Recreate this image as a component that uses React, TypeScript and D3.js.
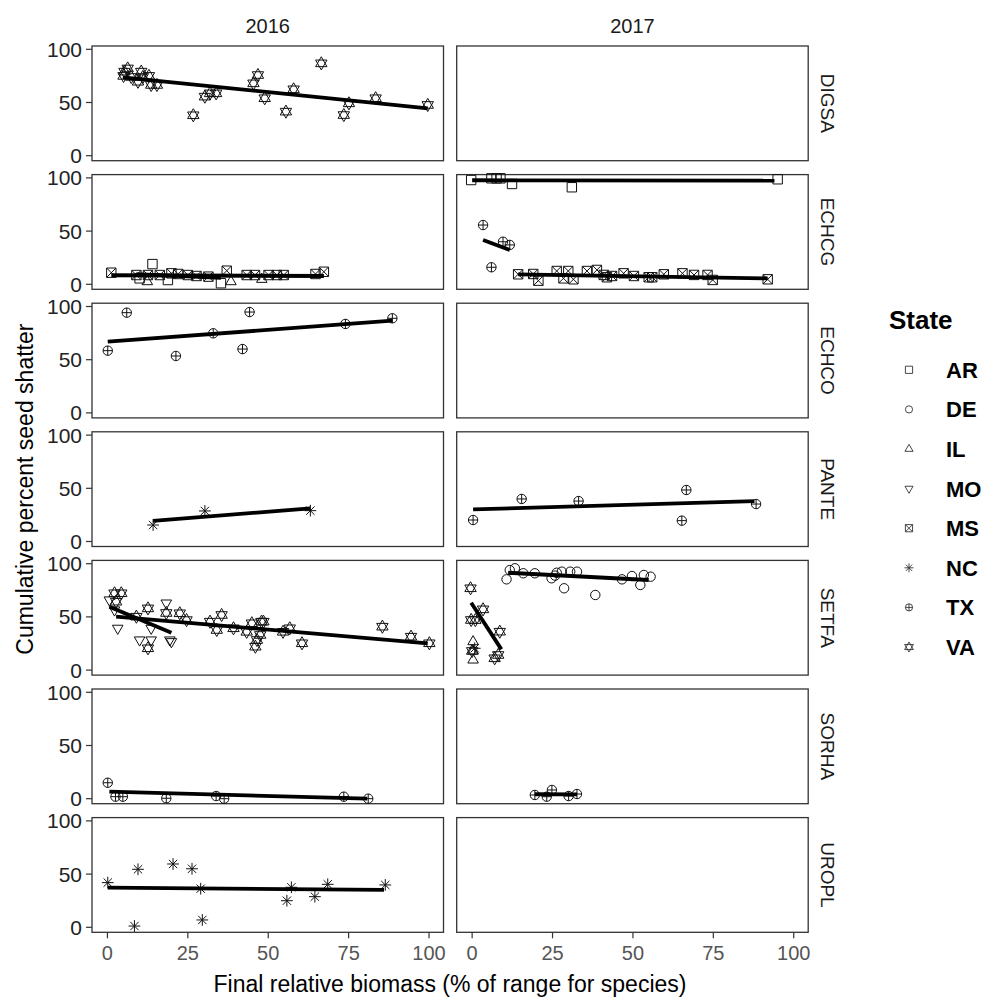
import React from 'react';
import * as d3 from 'd3';

// facet layout
const years = ['2016', '2017'];
const species = ['DIGSA', 'ECHCG', 'ECHCO', 'PANTE', 'SETFA', 'SORHA', 'UROPL'];
const states = ['AR', 'DE', 'IL', 'MO', 'MS', 'NC', 'TX', 'VA'];
const xTicks = [0, 25, 50, 75, 100];
const yTicks = [0, 50, 100];

// points: [final relative biomass, cumulative % seed shatter]
const digsa16VA = [[5.3, 79], [6.3, 82], [5, 75], [7.4, 74], [9.5, 69.5], [10.5, 79], [11, 74], [12.9, 75], [13.6, 66.5], [15.4, 66.5], [26.7, 38], [30.3, 55.5], [31.9, 58.6], [33.8, 58.6], [45.4, 68], [46.8, 75.8], [48.9, 54], [55.5, 41.4], [57.9, 62.4], [66.5, 86.8], [73.5, 38.2], [75.1, 49.2], [83.4, 54], [99.6, 47.7]];
const echcg16MS = [[1.2, 10.9], [9, 8.7], [12.6, 8.7], [16.3, 8.7], [19.9, 10.3], [22, 9.7], [25, 8.7], [27.7, 7.8], [31.4, 7.2], [37.1, 12.8], [43.3, 8.7], [45.9, 8.7], [50.1, 8.7], [52.7, 8.7], [54.8, 8.7], [64.7, 9.7], [67.3, 11.8]];
const echcg16AR = [[10, 5.6], [14, 19], [18.8, 4], [35.3, 1]];
const echcg16IL = [[12.4, 2.5], [38.4, 2.5], [48, 4.7]];
const echcg17AR = [[-0.3, 98], [6, 99.6], [7.6, 99.6], [8.8, 99.6], [12.4, 94.3], [31, 91.2], [95, 98.7]];
const echcg17TX = [[3.4, 55.7], [9.6, 40], [11.7, 37], [6, 16]];
const echcg17MS = [[14.3, 9.4], [19, 9.7], [20.6, 3.4], [26.3, 12.5], [28.4, 5.6], [29.9, 12.5], [31.5, 4.7], [35.7, 12.5], [38.8, 13.5], [40.9, 8.8], [41.9, 6.6], [43.5, 7.8], [47.1, 10.3], [50.3, 7.8], [54.9, 6.6], [56, 6.6], [59.6, 9.4], [65.4, 10.3], [69, 8.8], [73.2, 8.8], [74.8, 4.1], [91.9, 4.7]];
const echco16TX = [[0.1, 58.5], [6, 94.2], [21.3, 53.5], [32.9, 74.8], [42, 60], [44.2, 94.8], [74, 83.6], [88.6, 88.9]];
const pante16NC = [[14.2, 15.5], [30.3, 28.7], [63.1, 29]];
const pante17TX = [[0.3, 20.2], [15.4, 40], [33.1, 38], [66.6, 48.4], [65.2, 19.6], [88.3, 35.2]];
const setfa16MO = [[0.6, 65.9], [2.2, 56.5], [3.2, 39.3], [10, 28.3], [13.6, 28.3], [13.6, 39.3], [18.3, 63], [19.4, 28.3], [19.9, 26.7]];
const setfa16VA = [[2.2, 72.2], [4.3, 72.2], [2.7, 64.3], [9, 50.2], [12.6, 58], [12.6, 20.5], [18.3, 53.7], [22.5, 53.4], [24.6, 47], [31.9, 45.5], [35.5, 51.8], [34, 37.7], [39.2, 39.3], [44.9, 44], [46.5, 28.3], [48.5, 45.5], [47.5, 33], [46, 22], [43.3, 36], [47.9, 45.5], [54.6, 36], [56.7, 39.3], [60.5, 25.2], [85.5, 40.8], [94.4, 31.4], [100.1, 25.2]];
const setfa17DE = [[10.7, 85.3], [11.7, 94], [13.3, 95.7], [15.9, 91], [19.5, 91], [24.7, 86.3], [25.8, 88.8], [26.3, 91.5], [27.9, 92.5], [28.6, 76.9], [30.5, 92.5], [32.6, 92.5], [38.3, 70.6], [46.6, 85.3], [49.7, 88.4], [52.3, 80], [53.4, 89.4], [55.5, 87.8]];
const setfa17VA = [[-0.5, 76.9], [3.4, 57.1], [-0.3, 47.1], [1, 47], [8.6, 36.1], [7, 11.1], [8.1, 14.2], [0, 18]];
const setfa17IL = [[0.3, 26.7], [0.3, 9.5], [0.3, 18]];
const setfa17NC = [[0.8, 20.5]];
const sorha16TX = [[0.1, 15], [2.5, 1.9], [4.8, 1.9], [18.3, 0.4], [33.8, 2.5], [36.3, 0], [73.5, 1.9], [81.1, 0]];
const sorha17TX = [[19.5, 3.5], [23.2, 1.9], [24.8, 8.2], [30, 2.5], [32.6, 4.4]];
const uropl16NC = [[0.1, 42], [9.5, 54.5], [8.4, 1.2], [20.4, 59.5], [26.3, 55], [29, 36.3], [29.5, 6.9], [55.8, 25], [57.2, 37.6], [64.5, 28.8], [68.5, 40.4], [86.4, 39.8]];

// fitted lines: [species, year, x0, y0, x1, y1]
const fits: [string, string, number, number, number, number][] = [
    ['DIGSA', '2016', 4.8, 73.7, 99.6, 44.5],
    ['ECHCG', '2016', 1.2, 8.5, 67.3, 7.8],
    ['ECHCG', '2016', 9, 9.5, 35.3, 6],
    ['ECHCG', '2017', 0, 97.8, 94, 97.5],
    ['ECHCG', '2017', 3.4, 41.6, 11.7, 32.2],
    ['ECHCG', '2017', 14.3, 9.4, 91.9, 5.6],
    ['ECHCO', '2016', 0.1, 66.9, 88.6, 86.7],
    ['PANTE', '2016', 14.2, 19.3, 63.1, 31.2],
    ['PANTE', '2017', 0.3, 30.2, 87.8, 38],
    ['SETFA', '2016', 2.7, 50.2, 99.6, 25.2],
    ['SETFA', '2016', 0.6, 59.6, 19.9, 35.2],
    ['SETFA', '2017', 11.2, 91.5, 54.9, 84.7],
    ['SETFA', '2017', -0.3, 63.3, 9.1, 19.5],
    ['SORHA', '2016', 0.6, 6.6, 80.8, 0],
    ['SORHA', '2017', 19.5, 4.2, 32.6, 4],
    ['UROPL', '2016', 0.1, 37.2, 86, 35.1],
];

const groups: [string, string, string, number[][]][] = [
    ['DIGSA', '2016', 'VA', digsa16VA],
    ['ECHCG', '2016', 'MS', echcg16MS],
    ['ECHCG', '2016', 'AR', echcg16AR],
    ['ECHCG', '2016', 'IL', echcg16IL],
    ['ECHCG', '2017', 'AR', echcg17AR],
    ['ECHCG', '2017', 'TX', echcg17TX],
    ['ECHCG', '2017', 'MS', echcg17MS],
    ['ECHCO', '2016', 'TX', echco16TX],
    ['PANTE', '2016', 'NC', pante16NC],
    ['PANTE', '2017', 'TX', pante17TX],
    ['SETFA', '2016', 'MO', setfa16MO],
    ['SETFA', '2016', 'VA', setfa16VA],
    ['SETFA', '2017', 'DE', setfa17DE],
    ['SETFA', '2017', 'VA', setfa17VA],
    ['SETFA', '2017', 'IL', setfa17IL],
    ['SETFA', '2017', 'NC', setfa17NC],
    ['SORHA', '2016', 'TX', sorha16TX],
    ['SORHA', '2017', 'TX', sorha17TX],
    ['UROPL', '2016', 'NC', uropl16NC],
];

// ggplot-ish point shapes
const symbol = (state: string, s: number): string => {
    const p = d3.path();
    const tri = (dir: number, R: number) => {
        p.moveTo(0, -R * dir);
        p.lineTo(R * 0.866, R * 0.5 * dir);
        p.lineTo(-R * 0.866, R * 0.5 * dir);
        p.closePath();
    };
    const sq = () => p.rect(-s, -s, 2 * s, 2 * s);
    const circ = () => { p.moveTo(s, 0); p.arc(0, 0, s, 0, 2 * Math.PI); };
    switch (state) {
        case 'AR': sq(); break;
        case 'DE': circ(); break;
        case 'IL': tri(1, s * 1.3); break;
        case 'MO': tri(-1, s * 1.3); break;
        case 'MS':
            sq();
            p.moveTo(-s, -s); p.lineTo(s, s);
            p.moveTo(s, -s); p.lineTo(-s, s);
            break;
        case 'NC': {
            const a = s * 1.25, b = a * 0.707;
            p.moveTo(-a, 0); p.lineTo(a, 0);
            p.moveTo(0, -a); p.lineTo(0, a);
            p.moveTo(-b, -b); p.lineTo(b, b);
            p.moveTo(b, -b); p.lineTo(-b, b);
            break;
        }
        case 'TX':
            circ();
            p.moveTo(-s, 0); p.lineTo(s, 0);
            p.moveTo(0, -s); p.lineTo(0, s);
            break;
        case 'VA': tri(1, s * 1.4); tri(-1, s * 1.4); break;
    }
    return p.toString();
};

const font = 'Arial, "Liberation Sans", Helvetica, sans-serif';
const panelLeft = [92, 456.7];
const panelW = 351.5;
const panelH = 114.7;
const rowTop0 = 46;
const rowStep = 128.6;

const App: React.FC = () => {
    const x = d3.scaleLinear().domain([-4.8, 104.5]).range([0, panelW]);
    const y = d3.scaleLinear().domain([-4.7, 103.1]).range([panelH, 0]);
    const line = d3.line<number[]>().x(d => x(d[0])).y(d => y(d[1]));
    const lastTop = rowTop0 + rowStep * (species.length - 1);

    return (
        <svg width={992} height={998} style={{ position: 'absolute', left: 0, top: 0, background: '#fff' }}
            fontFamily={font}>
            {years.map((yr, j) => (
                <text key={yr} x={panelLeft[j] + panelW / 2} y={33} textAnchor="middle" fontSize={20} fill="#1a1a1a">{yr}</text>
            ))}
            {species.map((sp, i) => {
                const top = rowTop0 + rowStep * i;
                return (
                    <g key={sp}>
                        {years.map((yr, j) => (
                            <g key={yr} transform={`translate(${panelLeft[j]},${top})`}>
                                <rect width={panelW} height={panelH} fill="#fff" stroke="#333" strokeWidth={1.3} />
                                {groups.filter(g => g[0] === sp && g[1] === yr).map(g => g[3].map((d, k) => (
                                    <path key={g[2] + k} d={symbol(g[2], 4.7)} transform={`translate(${x(d[0])},${y(d[1])})`}
                                        fill="none" stroke="#111" strokeWidth={1} />
                                )))}
                                {fits.filter(f => f[0] === sp && f[1] === yr).map((f, k) => (
                                    <path key={'f' + k} d={line([[f[2], f[3]], [f[4], f[5]]]) || ''} stroke="#000" strokeWidth={3.8} fill="none" />
                                ))}
                            </g>
                        ))}
                        {yTicks.map(t => (
                            <g key={t} transform={`translate(${panelLeft[0]},${top + y(t)})`}>
                                <line x1={-6} x2={0} stroke="#333" strokeWidth={1.2} />
                                <text x={-10} dy="0.36em" textAnchor="end" fontSize={21} fill="#222">{t}</text>
                            </g>
                        ))}
                        <text transform={`translate(${828},${top + panelH / 2}) rotate(90)`} textAnchor="middle"
                            dy="0.36em" fontSize={19} fill="#1a1a1a">{sp}</text>
                    </g>
                );
            })}
            {years.map((yr, j) => (
                <g key={'x' + yr} transform={`translate(${panelLeft[j]},${lastTop + panelH})`}>
                    {xTicks.map(t => (
                        <g key={t} transform={`translate(${x(t)},0)`}>
                            <line y1={0} y2={6} stroke="#333" strokeWidth={1.2} />
                            <text y={28} textAnchor="middle" fontSize={20} fill="#555">{t}</text>
                        </g>
                    ))}
                </g>
            ))}
            <text x={450} y={992} textAnchor="middle" fontSize={23} fill="#000">Final relative biomass (% of range for species)</text>
            <text transform={`translate(33,${(rowTop0 + lastTop + panelH) / 2}) rotate(-90)`} textAnchor="middle"
                fontSize={23} fill="#000">Cumulative percent seed shatter</text>
            <text x={889} y={329} fontSize={26} fontWeight="bold" fill="#000">State</text>
            {states.map((st, k) => (
                <g key={st} transform={`translate(0,${369.8 + k * 39.6})`}>
                    <path d={symbol(st, 3.6)} transform="translate(909,0)" fill="none" stroke="#333" strokeWidth={0.9} />
                    <text x={946} dy="0.36em" fontSize={22} fontWeight="bold" fill="#000">{st}</text>
                </g>
            ))}
        </svg>
    );
};

export default App;
